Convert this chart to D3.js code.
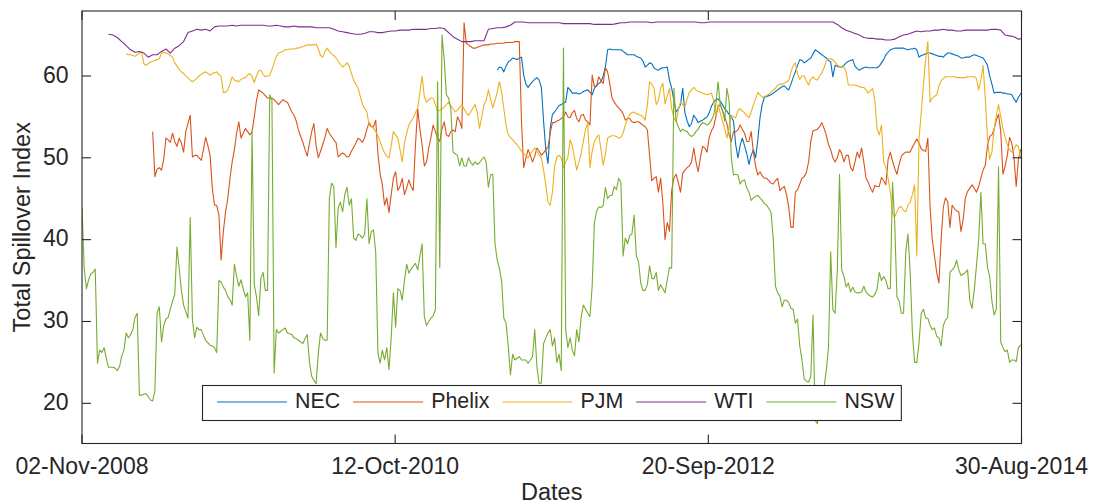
<!DOCTYPE html>
<html><head><meta charset="utf-8">
<script src="https://cdn.jsdelivr.net/npm/d3@7"></script>
<style>
body{margin:0;background:#fff}
svg{display:block}
text{font-family:"Liberation Sans",Arial,Helvetica,sans-serif;fill:#262626}
</style>
</head><body>
<svg id="chart" width="1096" height="504"></svg>
<script>
// ---- data ----
const startDate = "02-Nov-2008";
const endDate = "30-Aug-2014";
const xTickLabels = ["02-Nov-2008", "12-Oct-2010", "20-Sep-2012", "30-Aug-2014"];
const yTickValues = [20, 30, 40, 50, 60];
const seriesNames = ["NEC", "Phelix", "PJM", "WTI", "NSW"];
const seriesColors = ["#0072BD", "#D95319", "#EDB120", "#7E2F8E", "#77AC30"];

// NEC: one value every 5 days, first value 940 days after the start date
const necFirstDay = 940, necStepDays = 5;
const necValues = [
  60.7, 61.1, 61.0, 60.5, 61.2, 61.7, 61.9, 62.2, 62.1, 62.0,
  62.2, 62.3, 60.1, 59.0, 58.6, 59.0, 59.3, 59.6, 59.8, 59.5,
  58.6, 54.5, 51.0, 49.3, 53.6, 55.3, 55.6, 56.0, 56.4, 56.5,
  56.7, 56.8, 58.6, 58.3, 57.9, 57.9, 57.9, 57.8, 57.9, 58.1,
  58.2, 58.3, 58.0, 57.7, 58.5, 58.8, 59.1, 59.3, 60.0, 61.1,
  63.2, 63.3, 63.2, 63.2, 63.2, 63.2, 63.2, 63.0, 62.8, 62.6,
  62.6, 62.6, 62.6, 62.4, 62.3, 62.2, 61.8, 61.1, 61.3, 61.6,
  61.5, 61.0, 60.8, 60.7, 60.9, 61.0, 61.0, 61.1, 59.5, 58.5,
  57.0, 55.6, 56.0, 56.5, 58.5, 55.5, 54.5, 53.8, 54.2, 55.2,
  54.8, 54.3, 54.5, 54.6, 54.8, 55.0, 55.5, 56.3, 56.8, 57.1,
  57.2, 56.9, 56.5, 56.0, 55.7, 55.3, 55.0, 54.5, 51.6, 50.0,
  51.5, 52.4, 51.5, 50.5, 49.2, 50.3, 51.0, 50.0, 52.2, 54.9,
  56.5, 57.4, 57.5, 57.6, 57.7, 57.9, 58.1, 58.3, 58.5, 58.7,
  58.8, 58.5, 58.3, 59.0, 59.8, 60.5, 61.3, 62.0, 61.9, 61.6,
  61.8, 62.0, 62.2, 62.7, 63.2, 63.0, 62.8, 62.6, 62.4, 62.2,
  61.9, 61.7, 59.9, 61.3, 61.2, 61.1, 61.1, 61.3, 61.6, 61.8,
  61.9, 62.0, 61.2, 60.9, 60.7, 60.9, 61.0, 61.1, 61.0, 61.0,
  61.0, 61.0, 61.0, 61.2, 61.6, 62.0, 62.6, 62.9, 63.2, 63.3,
  63.4, 63.4, 63.4, 63.4, 63.4, 63.3, 63.2, 63.3, 63.3, 63.4,
  63.2, 62.3, 62.5, 62.6, 62.7, 62.8, 62.8, 62.7, 62.6, 62.5,
  62.4, 62.4, 62.3, 62.6, 62.8, 62.8, 62.7, 62.6, 62.5, 62.4,
  62.2, 62.2, 62.3, 62.3, 62.3, 62.5, 62.6, 62.5, 62.4, 62.3,
  62.2, 61.8, 61.3, 60.0, 59.0, 57.9, 58.0, 58.0, 58.0, 57.9,
  57.9, 57.8, 57.8, 57.7, 57.2, 56.8, 57.4, 57.8, 58.0
];

// Phelix: one value every 5 days, first value 160 days after the start date
const phelixFirstDay = 160, phelixStepDays = 5;
const phelixValues = [
  53.2, 47.7, 48.6, 48.8, 48.5, 49.8, 52.4, 52.2, 51.9, 53.0,
  52.0, 51.4, 52.4, 51.8, 50.7, 53.2, 54.2, 55.2, 50.1, 50.3,
  50.3, 50.0, 49.7, 51.0, 52.5, 51.5, 50.3, 46.3, 44.2, 44.2,
  43.0, 37.5, 41.0, 43.4, 45.0, 47.5, 49.5, 51.0, 53.0, 54.4,
  52.4, 53.0, 53.6, 53.2, 52.8, 53.2, 55.0, 57.0, 58.3, 58.1,
  57.9, 57.6, 57.3, 57.3, 57.3, 57.1, 56.8, 56.5, 56.8, 57.1,
  56.9, 56.8, 56.2, 55.6, 55.2, 54.5, 53.4, 52.6, 51.9, 51.0,
  50.2, 51.8, 53.2, 54.2, 51.5, 50.0, 50.8, 51.6, 52.5, 53.6,
  53.0, 52.6, 52.2, 51.9, 50.1, 50.4, 50.6, 50.4, 50.1, 50.2,
  50.8, 51.3, 51.8, 52.4, 52.2, 51.9, 52.5, 53.5, 54.3, 53.8,
  53.8, 54.6, 50.5, 48.0, 46.7, 44.2, 45.1, 43.3, 45.5, 47.5,
  48.3, 46.0, 46.5, 47.5, 45.5, 46.3, 47.3, 46.5, 46.0, 51.6,
  56.0, 53.5, 51.6, 49.0, 49.5, 51.2, 52.5, 54.0, 53.2, 52.4,
  52.0, 53.5, 54.4, 52.8, 52.6, 53.2, 53.4, 53.2, 55.0, 54.5,
  53.6, 66.5, 64.0, 63.8, 63.6, 63.4, 63.4, 63.5, 63.6, 63.7,
  63.8, 63.8, 63.8, 63.9, 63.9, 63.9, 64.0, 64.0, 64.0, 64.0,
  64.1, 64.1, 64.1, 64.1, 64.2, 64.2, 64.2, 54.4, 48.8, 50.0,
  51.0, 50.3, 49.5, 50.2, 51.2, 50.8, 50.3, 50.6, 51.0, 51.3,
  53.0, 54.3, 54.3, 54.5, 54.6, 54.8, 55.0, 55.6, 55.0, 54.9,
  55.5, 55.8, 54.8, 54.4, 55.2, 55.3, 54.6, 54.4, 54.0, 60.1,
  58.7, 58.8, 59.9, 59.4, 59.1, 61.0, 60.5, 59.0, 57.3, 56.8,
  56.4, 56.1, 55.8, 55.4, 54.6, 54.8, 54.8, 54.4, 54.3, 54.4,
  54.4, 54.2, 54.0, 53.8, 53.4, 50.3, 47.2, 47.5, 47.7, 45.8,
  47.5, 44.5, 40.0, 42.1, 41.0, 46.0, 47.5, 48.0, 47.0, 45.8,
  48.1, 48.5, 48.8, 49.0, 49.5, 51.2, 49.5, 48.3, 50.0, 51.4,
  51.2, 50.7, 52.5, 53.3, 53.8, 55.0, 56.2, 56.5, 55.8, 55.0,
  54.2, 52.8, 52.0, 53.2, 53.2, 53.4, 54.0, 53.5, 53.0, 52.0,
  52.0, 53.2, 50.7, 49.0, 47.9, 48.3, 47.8, 47.5, 47.5, 47.2,
  46.9, 46.8, 47.2, 47.5, 46.0, 46.3, 46.5, 45.5, 44.0, 41.5,
  41.5, 45.8, 46.1, 46.8, 47.5, 47.7, 48.2, 49.5, 52.0, 53.3,
  53.4, 53.5, 53.8, 54.3, 53.6, 52.8, 51.6, 51.0, 50.0, 49.5,
  50.0, 51.0, 50.5, 49.5, 50.3, 50.3, 48.8, 48.4, 49.5, 50.7,
  50.0, 51.2, 49.5, 47.5, 47.0, 46.3, 45.8, 46.6, 46.5, 46.5,
  47.6, 47.2, 46.7, 49.8, 50.7, 49.6, 48.7, 48.0, 49.2, 50.2,
  50.5, 50.7, 50.7, 50.7, 51.3, 51.8, 52.3, 51.8, 51.1, 50.9,
  50.8, 52.4, 44.0, 40.0, 38.0, 36.0, 34.7, 40.0, 44.0, 45.1,
  44.6, 41.5, 44.2, 43.8, 43.5, 43.4, 41.0, 42.5, 45.1, 45.9,
  46.3, 46.7, 46.3, 45.8, 46.5, 47.5, 48.5, 49.1, 51.5, 52.6,
  52.8, 53.5, 54.6, 55.3, 53.2, 48.0, 49.0, 50.3, 52.5, 51.8,
  50.0, 46.5, 49.8, 51.0, 51.2
];

// PJM: one value every 5 days, first value 100 days after the start date
const pjmFirstDay = 100, pjmStepDays = 5;
const pjmValues = [
  62.7, 62.6, 62.6, 62.5, 62.4, 62.6, 62.8, 62.9, 61.5, 61.3,
  61.5, 61.7, 61.8, 61.9, 62.0, 62.1, 62.8, 62.9, 62.8, 62.7,
  62.5, 62.3, 61.6, 61.2, 60.8, 60.5, 60.3, 60.0, 59.8, 59.5,
  59.3, 59.5, 59.7, 60.0, 60.2, 60.4, 60.5, 60.3, 60.1, 60.3,
  60.4, 60.5, 60.2, 59.9, 58.0, 58.0, 58.3, 59.0, 59.9, 59.5,
  59.4, 59.3, 59.6, 59.7, 59.8, 60.1, 60.3, 60.0, 59.2, 60.0,
  60.6, 60.7, 60.2, 59.9, 60.0, 60.1, 60.8, 61.6, 62.4, 62.8,
  62.9, 63.0, 63.2, 63.2, 63.3, 63.3, 63.3, 63.4, 63.4, 63.5,
  63.6, 63.7, 63.8, 63.8, 63.8, 63.8, 63.9, 63.3, 62.5, 62.3,
  63.0, 63.4, 63.0, 62.7, 62.5, 62.2, 61.8, 61.4, 61.1, 61.3,
  61.6, 61.2, 60.3, 59.5, 59.0, 58.5, 57.5, 56.5, 56.0, 55.6,
  54.0, 53.8, 53.6, 53.2, 52.7, 52.0, 51.2, 50.6, 50.2, 50.0,
  51.5, 53.2, 52.8, 52.4, 51.0, 49.5, 51.8, 53.0, 54.0, 54.5,
  54.9, 55.5, 56.1, 58.0, 60.0, 57.5, 56.8, 57.1, 57.3, 57.3,
  56.5, 55.7, 55.8, 56.0, 56.2, 56.5, 56.8, 56.4, 56.0, 55.6,
  55.8, 56.2, 56.5, 56.0, 55.5, 55.2, 55.6, 56.1, 56.5, 55.5,
  53.6, 55.0, 56.5, 57.0, 58.3, 57.2, 56.1, 57.0, 58.0, 59.3,
  58.0, 56.0, 54.0, 52.8, 52.5, 52.2, 51.9, 51.6, 51.2, 50.8,
  50.5, 50.3, 50.0, 50.5, 50.8, 51.2, 50.8, 50.3, 50.0, 48.5,
  46.7, 44.6, 44.2, 45.8, 49.0, 50.1, 50.3, 50.0, 48.8, 49.5,
  50.0, 52.2, 51.5, 50.0, 48.5, 49.5, 50.5, 52.0, 53.5, 54.2,
  48.8, 50.8, 52.0, 52.5, 52.8, 51.0, 49.1, 50.5, 52.4, 52.6,
  52.7, 52.7, 52.6, 52.4, 52.5, 53.0, 54.0, 54.8, 55.3, 55.5,
  55.6, 55.4, 55.3, 55.2, 55.0, 54.6, 56.5, 59.3, 59.0, 58.5,
  56.5, 57.0, 58.5, 59.1, 56.6, 57.5, 58.5, 56.0, 54.9, 54.4,
  55.8, 56.8, 56.5, 56.2, 57.2, 58.0, 58.3, 58.6, 58.3, 58.1,
  58.0, 57.9, 57.8, 57.7, 57.8, 57.9, 57.0, 55.2, 56.5, 55.5,
  54.5, 53.6, 52.4, 53.8, 55.2, 55.0, 54.9, 55.8, 56.0, 55.7,
  55.5, 55.2, 54.9, 55.6, 56.5, 57.2, 58.0, 57.7, 57.4, 57.5,
  57.6, 57.8, 58.0, 58.3, 58.5, 58.9, 59.0, 59.0, 59.1, 59.3,
  59.4, 60.5, 61.3, 61.6, 60.2, 59.6, 60.0, 60.0, 59.4, 58.9,
  59.6, 59.9, 59.6, 59.5, 60.0, 60.4, 61.0, 61.8, 62.1, 62.1,
  62.0, 61.7, 61.3, 61.2, 61.1, 61.1, 60.5, 58.9, 58.9, 58.9,
  58.9, 58.8, 58.7, 58.6, 58.6, 58.3, 57.9, 58.2, 58.5, 57.0,
  53.5, 52.8, 54.0, 49.5, 48.8, 47.5, 45.8, 43.2, 42.8, 43.4,
  44.0, 44.0, 43.6, 43.4, 44.2, 44.6, 45.5, 46.7, 38.0, 52.4,
  55.5, 59.0, 62.0, 64.2, 56.8, 57.3, 57.5, 57.7, 58.8, 59.4,
  59.7, 59.9, 59.9, 59.9, 59.9, 59.9, 59.8, 59.8, 59.8, 59.8,
  59.8, 59.9, 59.9, 59.9, 59.9, 59.7, 58.3, 59.5, 61.3, 57.3,
  52.4, 49.8, 50.7, 53.5, 55.2, 56.5, 55.0, 53.6, 52.5, 51.6,
  51.0, 50.7, 51.0, 51.6, 51.4, 50.0, 50.0
];

// WTI: one value every 10 days, first value 60 days after the start date
const wtiFirstDay = 60, wtiStepDays = 10;
const wtiValues = [
  65.1, 65.0, 64.7, 64.2, 63.7, 63.2, 62.9, 63.0, 62.8, 62.3,
  62.6, 62.6, 63.0, 63.3, 62.8, 63.4, 63.7, 64.2, 65.3, 65.5,
  65.7, 65.6, 65.7, 65.5, 66.0, 66.1, 66.1, 66.1, 66.2, 66.1,
  66.2, 66.2, 66.2, 66.2, 66.2, 66.2, 66.1, 66.1, 66.2, 66.1,
  66.0, 66.0, 66.1, 66.0, 66.0, 66.0, 66.0, 65.9, 65.9, 65.9,
  65.9, 65.7, 65.5, 65.4, 65.3, 65.2, 65.1, 65.1, 65.2, 65.4,
  65.4, 65.3, 65.3, 65.4, 65.5, 65.5, 65.6, 65.6, 65.6, 65.7,
  65.7, 65.7, 65.7, 65.8, 65.8, 65.9, 65.8, 65.3, 64.8, 64.5,
  64.2, 64.2, 64.2, 64.3, 64.3, 64.3, 65.7, 65.8, 65.9, 65.9,
  66.0, 66.2, 66.6, 66.6, 66.6, 66.5, 66.5, 66.5, 66.5, 66.5,
  66.5, 66.5, 66.5, 66.4, 66.4, 66.4, 66.4, 66.4, 66.4, 66.4,
  66.3, 66.3, 66.3, 66.3, 66.3, 66.4, 66.5, 66.5, 66.6, 66.6,
  66.6, 66.6, 66.6, 66.5, 66.6, 66.6, 66.6, 66.6, 66.6, 66.6,
  66.6, 66.6, 66.6, 66.6, 66.5, 66.5, 66.6, 66.6, 66.6, 66.6,
  66.6, 66.6, 66.6, 66.6, 66.6, 66.6, 66.6, 66.6, 66.6, 66.6,
  66.6, 66.6, 66.6, 66.6, 66.6, 66.6, 66.6, 66.6, 66.6, 66.6,
  66.6, 66.6, 66.6, 66.6, 66.6, 66.3, 65.9, 65.6, 65.4, 65.2,
  65.0, 64.7, 64.6, 64.6, 64.5, 64.5, 64.4, 64.4, 64.5, 64.8,
  65.0, 65.1, 65.3, 65.5, 65.4, 65.5, 65.5, 65.6, 65.6, 65.7,
  65.6, 65.6, 65.5, 65.5, 65.6, 65.6, 65.6, 65.6, 65.6, 65.6,
  65.7, 65.7, 65.6, 65.0, 64.9, 64.8, 64.5, 64.6
];

// NSW: one value every 5 days, from the start date
const nswFirstDay = 0, nswStepDays = 5;
const nswValues = [
  43.9, 36.5, 34.0, 35.1, 35.8, 36.0, 36.4, 24.9, 26.5, 26.2,
  26.8, 25.5, 24.4, 24.4, 24.4, 24.3, 24.0, 24.5, 25.8, 26.5,
  28.6, 28.0, 28.4, 29.0, 30.5, 31.0, 21.0, 21.0, 21.1, 21.2,
  20.8, 20.4, 20.3, 21.5, 31.0, 31.8, 27.5, 29.5, 30.3, 30.5,
  31.5, 32.5, 33.3, 39.1, 36.5, 33.8, 32.0, 31.2, 30.4, 42.7,
  30.2, 28.0, 29.3, 29.0, 29.0, 28.3, 27.7, 27.4, 27.1, 27.0,
  26.8, 26.2, 35.0, 34.8, 34.2, 33.8, 33.0, 32.7, 32.0, 37.0,
  35.5, 34.3, 35.1, 34.0, 33.0, 33.5, 27.7, 53.2, 34.5, 33.0,
  30.7, 35.3, 36.0, 33.8, 33.8, 57.7, 57.0, 23.7, 29.0, 28.6,
  28.8, 29.0, 29.2, 28.6, 28.5, 28.4, 28.0, 27.9, 27.7, 27.5,
  27.3, 27.9, 28.4, 25.0, 23.3, 22.8, 22.4, 26.1, 28.6, 27.9,
  27.7, 27.7, 45.0, 46.9, 46.5, 39.0, 43.9, 44.6, 43.4, 45.5,
  46.4, 44.2, 45.0, 40.2, 39.9, 40.7, 40.5, 40.2, 40.7, 45.0,
  39.5, 41.0, 41.2, 38.4, 26.1, 24.9, 26.5, 25.3, 26.8, 24.1,
  28.0, 33.5, 29.3, 34.0, 33.8, 32.6, 35.0, 37.0, 35.9, 36.4,
  36.8, 37.1, 36.3, 38.0, 39.5, 30.6, 29.5, 30.0, 30.4, 30.7,
  31.4, 59.3, 36.6, 65.0, 62.0, 57.7, 57.3, 56.0, 50.7, 50.5,
  50.3, 49.0, 50.0, 49.0, 49.0, 50.0, 49.4, 49.1, 49.5, 49.2,
  49.4, 49.8, 50.1, 49.5, 46.4, 47.9, 48.0, 39.5, 37.5, 36.5,
  35.0, 30.4, 29.8, 27.0, 23.5, 26.0, 25.3, 25.5, 25.7, 25.3,
  25.3, 25.3, 24.9, 25.3, 25.7, 29.0, 24.4, 22.4, 22.5, 27.3,
  28.0, 28.6, 29.0, 27.0, 28.0, 25.0, 26.0, 24.0, 63.4, 29.0,
  26.8, 28.0, 26.5, 25.8, 29.0, 27.5, 30.5, 32.0, 31.5, 31.0,
  30.6, 34.3, 42.0, 43.5, 44.0, 43.9, 44.2, 46.4, 45.0, 45.4,
  45.4, 46.5, 46.1, 47.5, 47.0, 38.0, 40.2, 39.5, 40.5, 40.7,
  43.0, 38.0, 37.3, 34.7, 33.8, 33.8, 34.5, 36.8, 35.3, 35.2,
  36.0, 33.8, 34.5, 34.0, 33.5, 35.1, 36.6, 36.5, 58.5, 54.5,
  53.8, 53.2, 53.5, 53.3, 53.2, 52.8, 52.6, 52.8, 53.2, 53.5,
  54.0, 54.3, 54.2, 54.0, 54.2, 54.6, 55.2, 56.5, 59.3, 56.5,
  55.8, 54.5, 58.5, 57.0, 50.0, 47.9, 48.0, 47.9, 46.8, 47.2,
  47.3, 46.3, 45.8, 44.8, 45.1, 45.3, 45.4, 45.1, 44.8, 44.4,
  44.2, 43.8, 43.3, 40.0, 34.3, 33.5, 33.1, 31.8, 32.6, 32.6,
  32.3, 31.6, 31.5, 29.8, 30.3, 27.0, 25.3, 23.0, 22.7, 22.6,
  23.3, 30.8, 17.9, 17.5, 22.0, 22.0, 22.0, 24.0, 26.8, 38.5,
  31.4, 31.0, 36.3, 48.0, 36.3, 35.5, 34.2, 34.7, 33.6, 34.2,
  33.6, 33.5, 33.5, 33.6, 34.3, 33.6, 33.3, 33.1, 33.0, 33.3,
  34.0, 36.0, 35.0, 35.5, 35.0, 34.0, 34.0, 47.0, 42.0, 33.0,
  32.5, 31.0, 31.0, 38.5, 40.7, 36.0, 28.6, 25.0, 25.0, 27.4,
  31.0, 31.5, 30.4, 30.4, 29.5, 29.0, 29.2, 28.2, 28.0, 27.0,
  29.5, 30.2, 30.5, 36.0, 36.3, 36.6, 37.5, 36.3, 35.6, 35.8,
  36.0, 36.3, 32.5, 31.6, 33.8, 36.8, 39.9, 45.8, 39.5, 39.5,
  36.6, 35.5, 32.5, 30.8, 31.5, 48.9, 27.5, 26.8, 26.3, 26.5,
  25.0, 25.3, 25.3, 25.1, 26.8, 27.1, 27.2
];

const yDomain = [15.09, 67.94];

// ---- drawing ----
const parseDate = d3.utcParse("%d-%b-%Y");
const fmtDate = d3.utcFormat("%d-%b-%Y");
const t0 = parseDate(startDate), t1 = parseDate(endDate);

const plot = {left: 82, right: 1021.5, top: 11, bottom: 443.5};
const x = d3.scaleUtc().domain([t0, t1]).range([plot.left, plot.right]);
const y = d3.scaleLinear().domain(yDomain).range([plot.bottom, plot.top]);

const svg = d3.select("#chart");
const ink = "#262626";
const tickFont = "23px", labelFont = "23.5px", legendFont = "21.4px";

svg.append("defs").append("clipPath").attr("id", "clip")
  .append("rect").attr("x", plot.left).attr("y", plot.top)
  .attr("width", plot.right - plot.left).attr("height", plot.bottom - plot.top);

const series = [
  {name: seriesNames[0], color: seriesColors[0], first: necFirstDay, step: necStepDays, values: necValues},
  {name: seriesNames[1], color: seriesColors[1], first: phelixFirstDay, step: phelixStepDays, values: phelixValues},
  {name: seriesNames[2], color: seriesColors[2], first: pjmFirstDay, step: pjmStepDays, values: pjmValues},
  {name: seriesNames[3], color: seriesColors[3], first: wtiFirstDay, step: wtiStepDays, values: wtiValues},
  {name: seriesNames[4], color: seriesColors[4], first: nswFirstDay, step: nswStepDays, values: nswValues}
];

const line = d3.line()
  .x(d => x(d.date))
  .y(d => y(d.value));

const gLines = svg.append("g").attr("clip-path", "url(#clip)");
series.forEach(s => {
  const pts = s.values.map((v, i) => ({date: d3.utcDay.offset(t0, s.first + i * s.step), value: v}));
  gLines.append("path").datum(pts)
    .attr("d", line)
    .attr("fill", "none")
    .attr("stroke", s.color)
    .attr("stroke-width", 1.1)
    .attr("stroke-linejoin", "round");
});

// axes box
svg.append("rect")
  .attr("x", plot.left).attr("y", plot.top)
  .attr("width", plot.right - plot.left).attr("height", plot.bottom - plot.top)
  .attr("fill", "none").attr("stroke", ink).attr("stroke-width", 1.1);

const tickLen = 9;
const xTickDates = xTickLabels.map(parseDate);
const gx = svg.append("g");
xTickDates.forEach(d => {
  const px = x(d);
  gx.append("line").attr("x1", px).attr("x2", px).attr("y1", plot.bottom).attr("y2", plot.bottom - tickLen)
    .attr("stroke", ink).attr("stroke-width", 1.1);
  gx.append("line").attr("x1", px).attr("x2", px).attr("y1", plot.top).attr("y2", plot.top + tickLen)
    .attr("stroke", ink).attr("stroke-width", 1.1);
  gx.append("text").attr("x", px).attr("y", 473.5)
    .attr("text-anchor", "middle").style("font-size", tickFont)
    .text(fmtDate(d));
});

const gy = svg.append("g");
yTickValues.forEach(v => {
  const py = y(v);
  gy.append("line").attr("x1", plot.left).attr("x2", plot.left + tickLen).attr("y1", py).attr("y2", py)
    .attr("stroke", ink).attr("stroke-width", 1.1);
  gy.append("line").attr("x1", plot.right).attr("x2", plot.right - tickLen).attr("y1", py).attr("y2", py)
    .attr("stroke", ink).attr("stroke-width", 1.1);
  gy.append("text").attr("x", 68.5).attr("y", py + 6.7)
    .attr("text-anchor", "end").style("font-size", tickFont)
    .text(v);
});

// axis labels
svg.append("text").attr("x", (plot.left + plot.right) / 2).attr("y", 500)
  .attr("text-anchor", "middle").style("font-size", labelFont).text("Dates");
svg.append("text")
  .attr("transform", `translate(29.5,${(plot.top + plot.bottom) / 2}) rotate(-90)`)
  .attr("text-anchor", "middle").style("font-size", labelFont).text("Total Spillover Index");

// legend
const legend = svg.append("g");
const legBox = legend.append("rect")
  .attr("fill", "#fff").attr("stroke", ink).attr("stroke-width", 1.1);
let cx = 217;
const lineY = 402, textY = 407.5;
series.forEach(s => {
  legend.append("line").attr("x1", cx).attr("x2", cx + 70).attr("y1", lineY).attr("y2", lineY)
    .attr("stroke", s.color).attr("stroke-width", 1.15);
  const t = legend.append("text").attr("x", cx + 78).attr("y", textY)
    .style("font-size", legendFont).text(s.name);
  const w = t.node().getComputedTextLength();
  cx = cx + 78 + w + 13;
});
legBox.attr("x", 202.5).attr("y", 385.5).attr("width", (cx - 13 + 7) - 202.5).attr("height", 35);
</script>
</body></html>
